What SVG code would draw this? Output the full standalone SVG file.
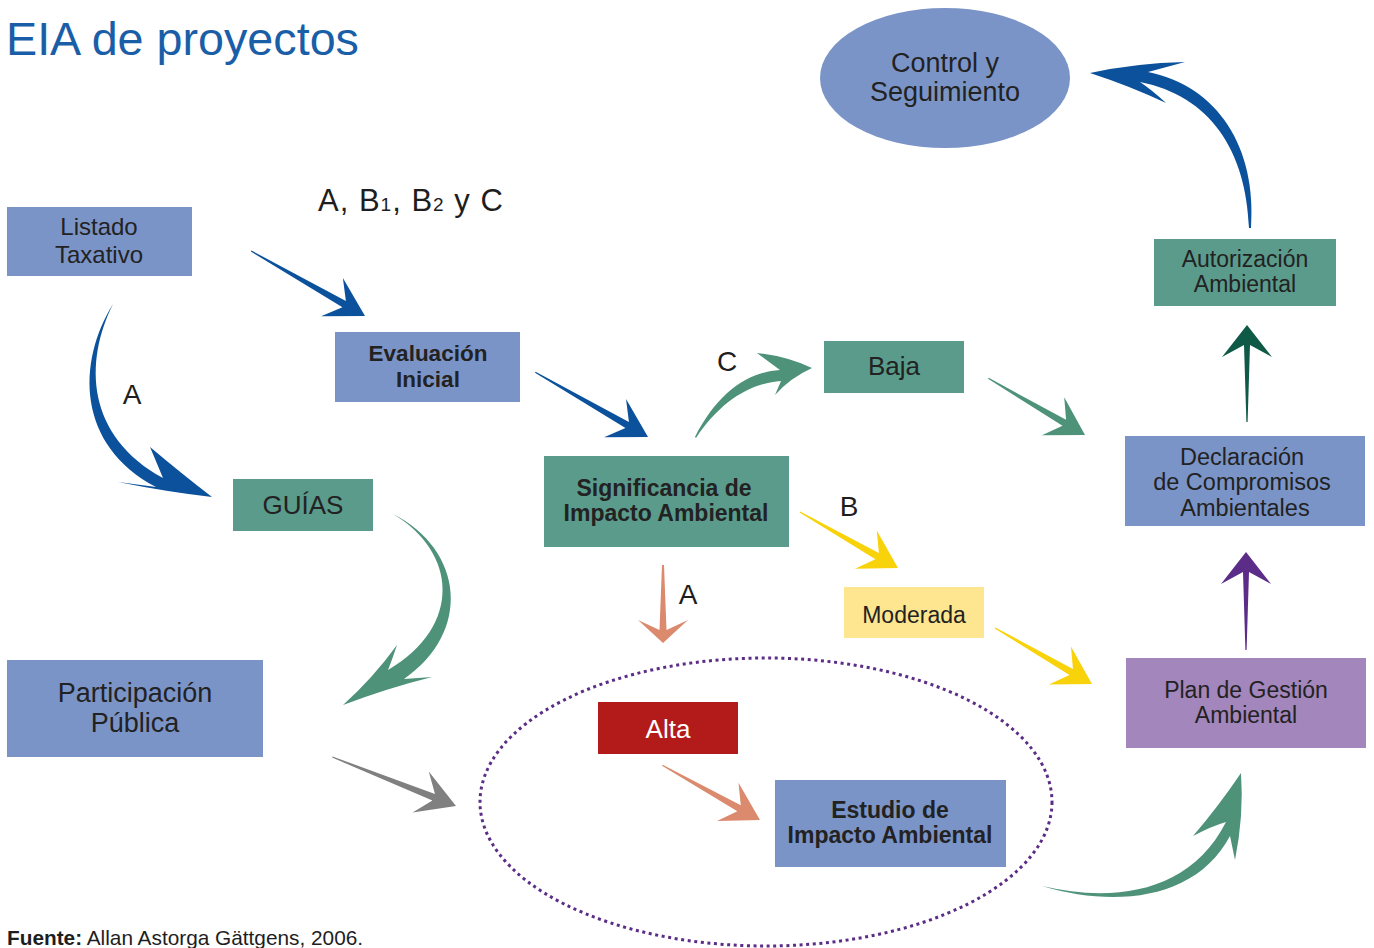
<svg xmlns="http://www.w3.org/2000/svg" width="1374" height="948" viewBox="0 0 1374 948">
<style>
text{font-family:"Liberation Sans",Arial,sans-serif;fill:#222;text-anchor:middle}
.t{font-size:23px}
.b{font-weight:bold;font-size:22.5px}
.lbl{font-size:28px;fill:#1e1e1e}
.peri{fill:#7b94c7}
.grn{fill:#5a9b8b}
.blue{fill:#0b519b}
.green{fill:#4e927a}
.yel{fill:#f8d20a}
.sal{fill:#db8a6e}
.grey{fill:#808081}
.dgr{fill:#0f5a47}
.pur{fill:#5c2d88}
</style>
<rect width="1374" height="948" fill="#fff"/>
<text x="6" y="55" style="font-size:46.7px;fill:#1a5ea8;text-anchor:start">EIA de proyectos</text>

<g id="connectors">
  <path class="blue" transform="translate(365,316) rotate(29.7)" d="M-131,-0.6 L-24,-3.5 L-38,-22 L0,0 L-38,22 L-24,3.5 L-131,0.6Z"/>
  <path class="blue" transform="translate(648,437) rotate(29.9)" d="M-130,-0.6 L-24,-3.5 L-38,-22 L0,0 L-38,22 L-24,3.5 L-130,0.6Z"/>
  <path class="green" transform="translate(1085,435) rotate(30.4)" d="M-112,-0.6 L-24,-3.5 L-37,-22 L0,0 L-37,22 L-24,3.5 L-112,0.6Z"/>
  <path class="yel" transform="translate(898,568) rotate(29.7)" d="M-113,-0.6 L-24,-3.5 L-37,-22 L0,0 L-37,22 L-24,3.5 L-113,0.6Z"/>
  <path class="yel" transform="translate(1092,684) rotate(30)" d="M-112,-0.6 L-24,-3.5 L-37,-22 L0,0 L-37,22 L-24,3.5 L-112,0.6Z"/>
  <path class="sal" transform="translate(760,820) rotate(29.3)" d="M-112,-0.6 L-24,-3.5 L-37,-22 L0,0 L-37,22 L-24,3.5 L-112,0.6Z"/>
  <path class="grey" transform="translate(456,806) rotate(21.6)" d="M-133,-0.6 L-24,-3.5 L-38,-22 L0,0 L-38,22 L-24,3.5 L-133,0.6Z"/>
  <path class="sal" transform="translate(663,643) rotate(90)" d="M-78,-1 L-13,-3.5 L-23,-25 L0,0 L-23,25 L-13,3.5 L-78,1Z"/>
  <path class="dgr" transform="translate(1247,325) rotate(-90)" d="M-97,-0.6 L-20,-3 L-32,-25 L0,0 L-32,25 L-20,3 L-97,0.6Z"/>
  <path class="pur" transform="translate(1246,552) rotate(-90)" d="M-98,-0.6 L-20,-3 L-32,-25 L0,0 L-32,25 L-20,3 L-98,0.6Z"/>
  <path class="blue" d="M113,304 C77,362 76,445 156,487 L118,482 Q168,492 212,497 Q182,474 150,447 Q158,466 163,478 C86,436 84,362 113,304Z"/>
  <path class="green" d="M393,514 C464,550 472,632 404,679 L432,677 Q388,688 343,705 Q373,678 397,645 Q392,660 388,670 C463,626 457,552 393,514Z"/>
  <path class="green" d="M695,437 C718,392 748,372 780,370 L757,353 Q786,356 812,368 Q790,378 775,395 L781,381 C750,383 720,402 696,438Z"/>
  <path class="blue" d="M1251,228 C1257,148 1218,86 1148,72 L1185,62 Q1136,63 1090,73 Q1130,86 1166,103 Q1152,90 1140,82 C1210,96 1246,150 1249,228Z"/>
  <path class="green" d="M1042,886 C1115,908 1196,900 1230,836 L1235,860 Q1244,815 1241,773 Q1218,807 1193,836 Q1212,826 1226,822 C1190,893 1114,903 1042,886Z"/>
  <ellipse cx="766" cy="802" rx="286" ry="144" fill="none" stroke="#5b2d86" stroke-width="3" stroke-dasharray="3 3.6"/>
</g>

<g id="control">
  <ellipse cx="945" cy="78" rx="125" ry="70" class="peri"/>
  <text x="945" y="72" style="font-size:27px">Control y</text>
  <text x="945" y="101" style="font-size:27px">Seguimiento</text>
</g>
<g id="listado">
  <rect x="7" y="207" width="185" height="69" class="peri"/>
  <text x="99" y="235" style="font-size:24px">Listado</text>
  <text x="99" y="263" style="font-size:24px">Taxativo</text>
</g>
<g id="evaluacion">
  <rect x="335" y="332" width="185" height="70" class="peri"/>
  <text x="428" y="361" class="b">Evaluación</text>
  <text x="428" y="387" class="b">Inicial</text>
</g>
<g id="guias">
  <rect x="233" y="479" width="140" height="52" class="grn"/>
  <text x="303" y="514" style="font-size:26px">GUÍAS</text>
</g>
<g id="participacion">
  <rect x="7" y="660" width="256" height="97" class="peri"/>
  <text x="135" y="702" style="font-size:27px">Participación</text>
  <text x="135" y="732" style="font-size:27px">Pública</text>
</g>
<g id="significancia">
  <rect x="544" y="456" width="245" height="91" class="grn"/>
  <text x="664" y="496" class="b" style="font-size:23px">Significancia de</text>
  <text x="666" y="521" class="b" style="font-size:23px">Impacto Ambiental</text>
</g>
<g id="baja">
  <rect x="824" y="341" width="140" height="52" class="grn"/>
  <text x="894" y="375" style="font-size:26px">Baja</text>
</g>
<g id="moderada">
  <rect x="844" y="587" width="140" height="51" fill="#fde68f"/>
  <text x="914" y="623" style="font-size:23px">Moderada</text>
</g>
<g id="alta">
  <rect x="598" y="702" width="140" height="52" fill="#b31b1b"/>
  <text x="668" y="738" style="font-size:26px;fill:#fff">Alta</text>
</g>
<g id="estudio">
  <rect x="775" y="780" width="231" height="87" class="peri"/>
  <text x="890" y="818" class="b" style="font-size:23px">Estudio de</text>
  <text x="890" y="843" class="b" style="font-size:23px">Impacto Ambiental</text>
</g>
<g id="autorizacion">
  <rect x="1154" y="239" width="182" height="67" class="grn"/>
  <text x="1245" y="267" class="t">Autorización</text>
  <text x="1245" y="292" class="t">Ambiental</text>
</g>
<g id="declaracion">
  <rect x="1125" y="436" width="240" height="90" class="peri"/>
  <text x="1242" y="465" class="t" style="font-size:23.5px">Declaración</text>
  <text x="1242" y="490" class="t" style="font-size:23.5px">de Compromisos</text>
  <text x="1245" y="516" class="t" style="font-size:23.5px">Ambientales</text>
</g>
<g id="plan">
  <rect x="1126" y="658" width="240" height="90" fill="#a386bb"/>
  <text x="1246" y="698" class="t">Plan de Gestión</text>
  <text x="1246" y="723" class="t">Ambiental</text>
</g>

<g id="labels">
  <text x="318" y="211" style="font-size:31px;text-anchor:start;fill:#1e1e1e;letter-spacing:1px">A, B<tspan style="font-size:19px">1</tspan>, B<tspan style="font-size:19px">2</tspan> y C</text>
  <text x="132" y="404" class="lbl">A</text>
  <text x="727" y="371" class="lbl">C</text>
  <text x="849" y="516" class="lbl">B</text>
  <text x="688" y="604" class="lbl">A</text>
  <text x="7" y="945" style="font-size:20.8px;text-anchor:start;fill:#1e1e1e"><tspan font-weight="bold">Fuente:</tspan> Allan Astorga Gättgens, 2006.</text>
</g>
</svg>
